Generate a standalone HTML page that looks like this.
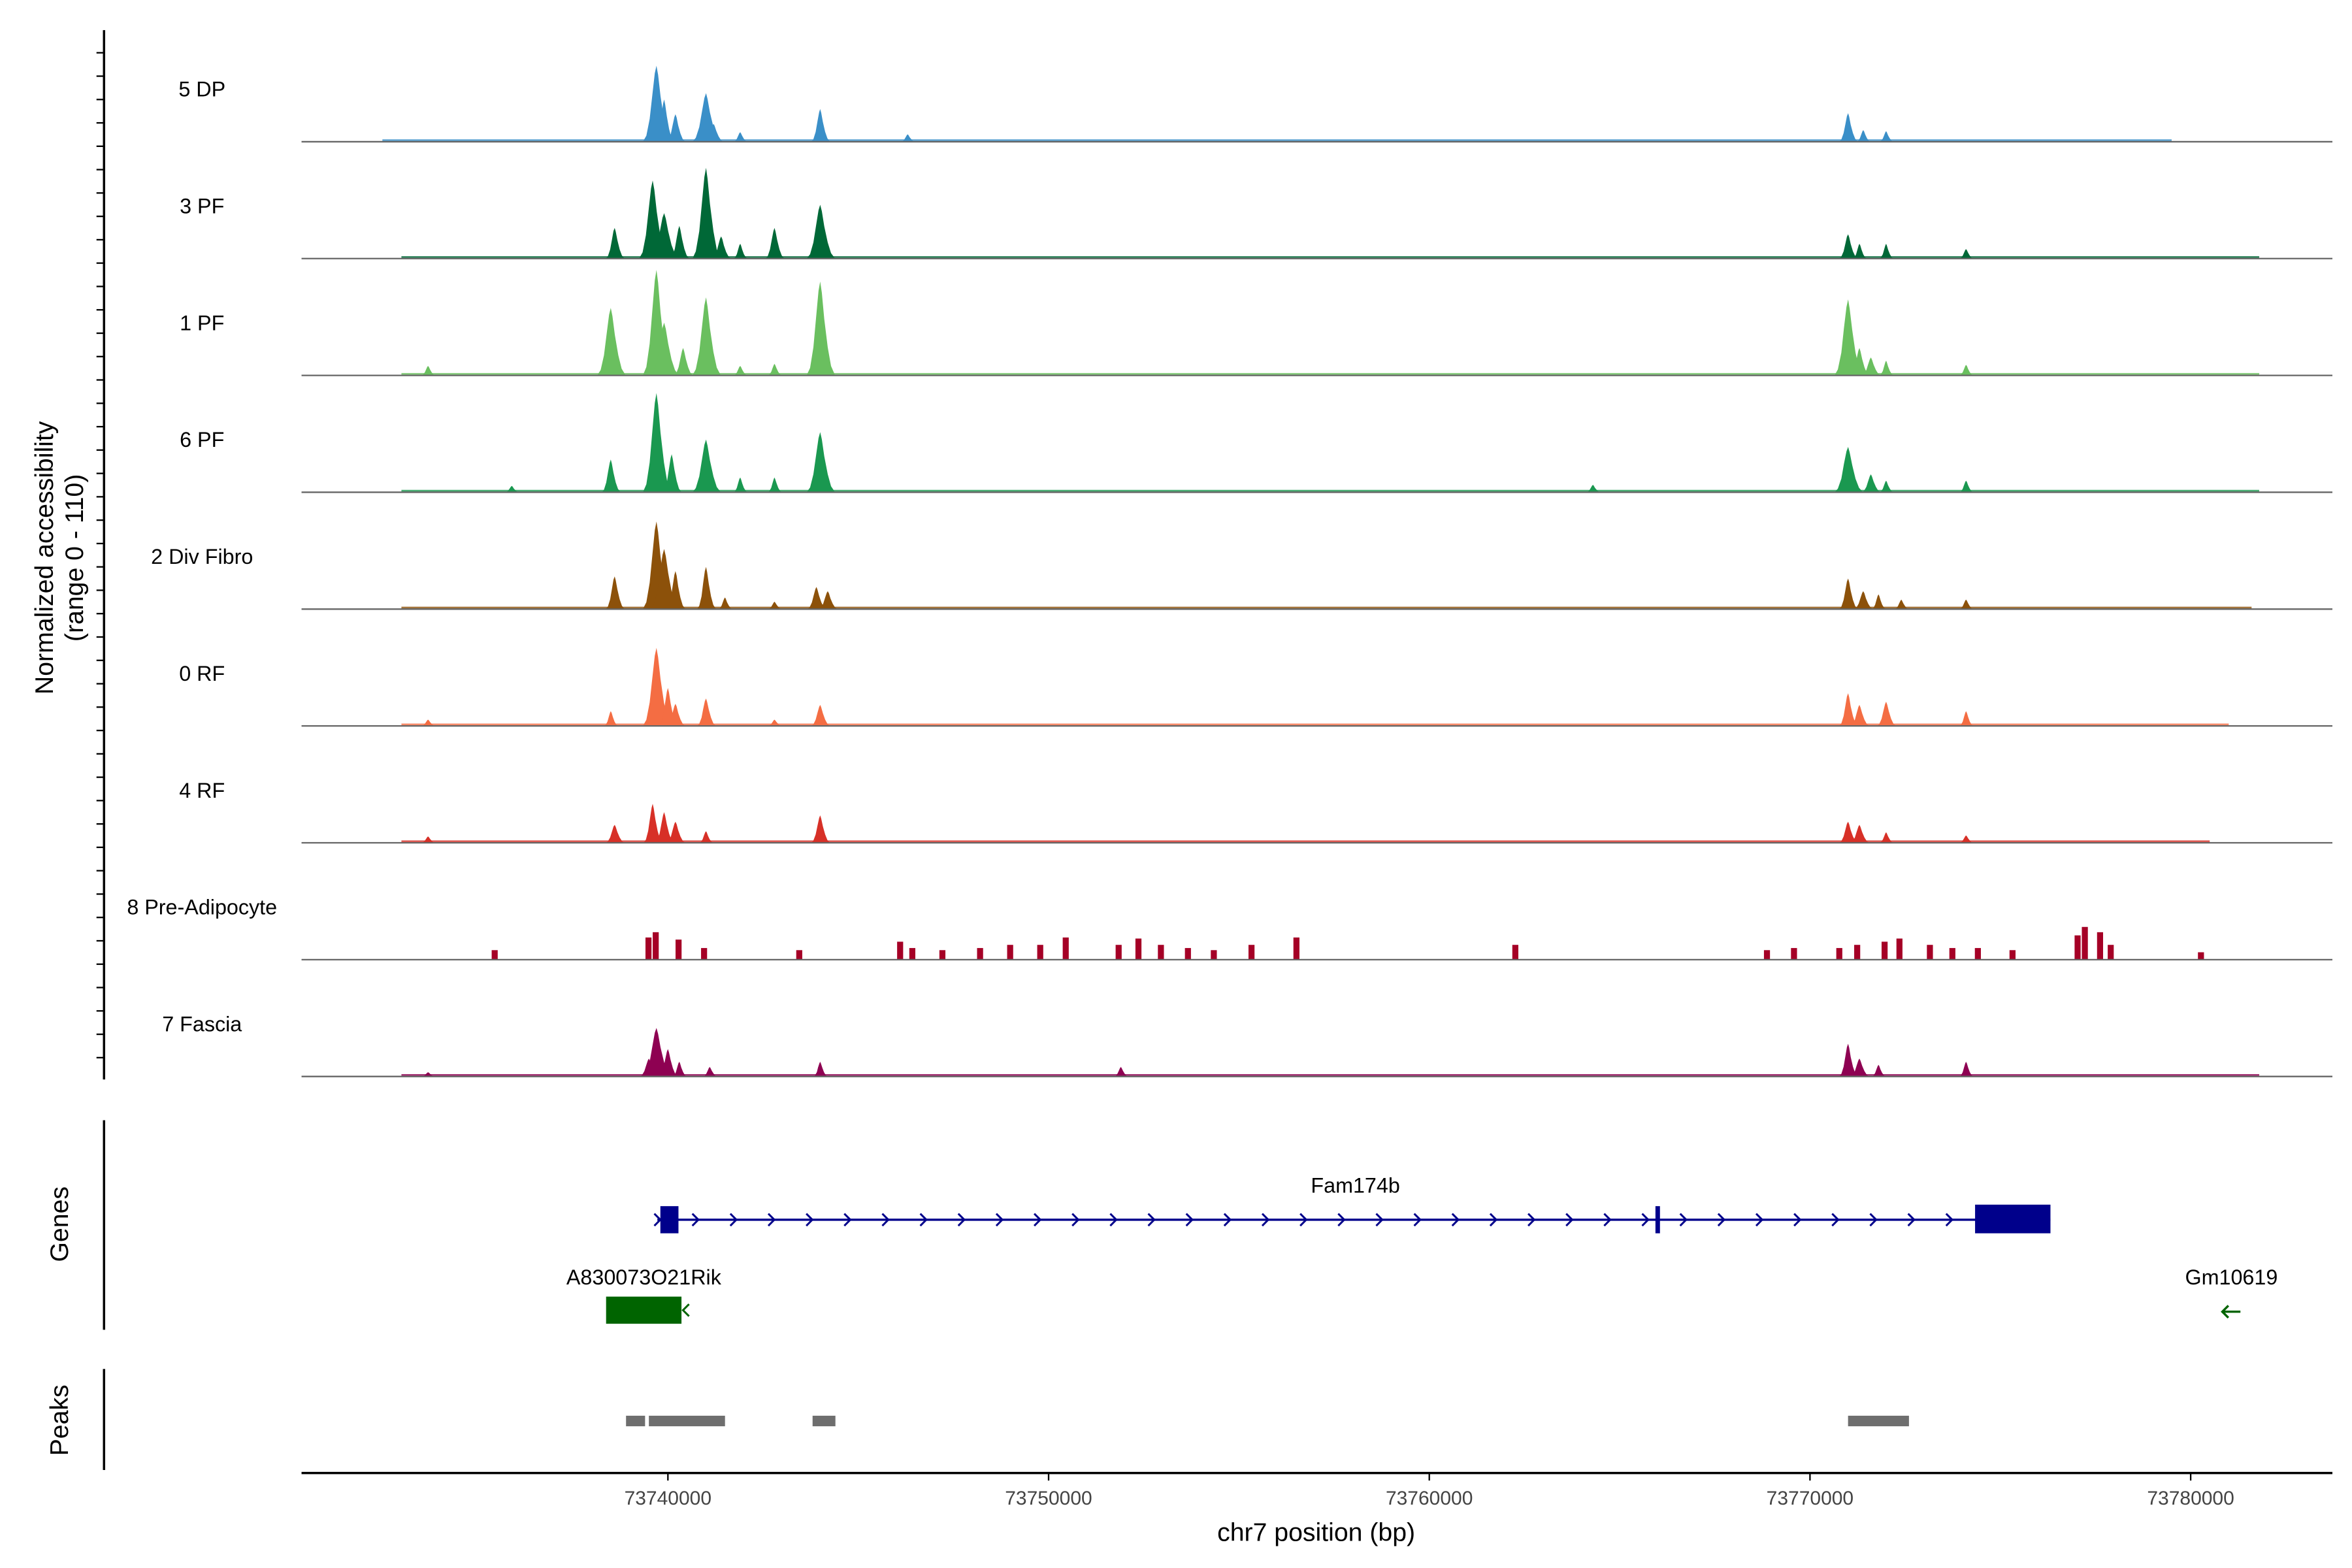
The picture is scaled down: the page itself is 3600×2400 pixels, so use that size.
<!DOCTYPE html>
<html><head><meta charset="utf-8"><style>
html,body{margin:0;padding:0;background:#fff;}
svg{display:block;font-family:"Liberation Sans",sans-serif;}
</style></head><body>
<svg id="chart" xmlns="http://www.w3.org/2000/svg" width="3600" height="2400" viewBox="0 0 1560 1040">
<rect width="1560" height="1040" fill="#fff"/>
<text transform="translate(35,370) rotate(-90)" text-anchor="middle" font-size="17">Normalized accessibility</text>
<text transform="translate(55,370) rotate(-90)" text-anchor="middle" font-size="17">(range 0 - 110)</text>
<line x1="69" y1="20" x2="69" y2="716" stroke="#000" stroke-width="1.5"/>
<g id="tracks"></g>
<g id="yticks"></g>
<line x1="69" y1="743" x2="69" y2="882" stroke="#000" stroke-width="1.5"/>
<text transform="translate(45,812) rotate(-90)" text-anchor="middle" font-size="17">Genes</text>
<g id="genes"></g>
<line x1="69" y1="908" x2="69" y2="975" stroke="#000" stroke-width="1.5"/>
<text transform="translate(45,942) rotate(-90)" text-anchor="middle" font-size="17">Peaks</text>
<g id="peaks"></g>
<line x1="200" y1="977" x2="1547" y2="977" stroke="#000" stroke-width="1.5"/>
<g id="xticks"></g>
<text x="873" y="1022" text-anchor="middle" font-size="17">chr7 position (bp)</text>
</svg>
<script>
const NS="http://www.w3.org/2000/svg";
const trackNames=["5 DP","3 PF","1 PF","6 PF","2 Div Fibro","0 RF","4 RF","8 Pre-Adipocyte","7 Fascia"];
const trackColors=["#3a8fc8","#006837","#6abf5f","#1a9850","#8c510a","#f46d43","#d73027","#a50026","#8e0152"];
const dpPos=[73739.7,73739.9,73740.2,73741.0,73741.2,73741.9,73744.0,73746.3,73771.0,73771.4,73772.0];
const dpVal=[72,40,26,46,17,9,31,7,27,11,10];
const pf3Pos=[73738.6,73739.6,73739.9,73740.3,73741.0,73741.4,73741.9,73742.8,73744.0,73771.0,73771.3,73772.0,73774.1];
const pf3Val=[29,74,43,31,86,21,14,29,51,23,14,14,9];
const pf1Pos=[73733.7,73738.5,73739.7,73739.9,73740.4,73741.0,73741.9,73742.8,73744.0,73771.0,73771.3,73771.6,73772.0,73774.1];
const pf1Val=[9,64,100,50,26,74,9,11,89,72,26,17,14,10];
const pf6Pos=[73735.9,73738.5,73739.7,73740.1,73741.0,73741.9,73742.8,73744.0,73764.3,73771.0,73771.6,73772.0,73774.1];
const pf6Val=[6,31,94,36,50,14,14,57,7,43,17,11,11];
const divPos=[73738.6,73739.7,73739.9,73740.2,73741.0,73741.5,73742.8,73743.9,73744.2,73771.0,73771.4,73771.8,73772.4,73774.1];
const divVal=[31,83,57,36,40,11,7,21,17,29,17,14,9,9];
const rf0Pos=[73733.7,73738.5,73739.7,73740.0,73740.2,73741.0,73742.8,73744.0,73771.0,73771.3,73772.0,73774.1];
const rf0Val=[6,14,74,36,21,26,6,20,31,20,23,14];
const rf4Pos=[73733.7,73738.6,73739.6,73739.9,73740.2,73741.0,73744.0,73771.0,73771.3,73772.0,73774.1];
const rf4Val=[6,17,37,29,20,11,26,20,17,10,7];
const preAdPos=[73735.45,73739.49,73739.68,73740.28,73740.95,73743.45,73746.10,73746.42,73747.21,73748.20,73748.99,73749.78,73750.45,73751.84,73752.36,73752.95,73753.66,73754.34,73755.33,73756.51,73762.26,73768.87,73769.58,73770.77,73771.24,73771.96,73772.35,73773.15,73773.74,73774.41,73775.32,73777.03,73777.22,73777.62,73777.90,73780.27];
const preAdVal=[9,21,26,19,11,9,17,11,9,11,14,14,21,14,20,14,11,9,14,21,14,9,11,11,14,17,20,14,11,11,9,23,31,26,14,7];
const fasPos=[73733.7,73739.5,73739.7,73740.0,73740.3,73741.1,73744.0,73751.9,73771.0,73771.3,73771.8,73774.1];
const fasVal=[4,17,46,26,14,9,14,9,31,17,11,14];
const noiseStart=[73732.5,73733.0,73733.0,73733.0,73733.0,73733.0,73733.0,null,73733.0];
const noiseEnd=[73779.5,73781.8,73781.8,73781.8,73781.6,73781.0,73780.5,null,73781.8];
const trackPos=[dpPos,pf3Pos,pf1Pos,pf6Pos,divPos,rf0Pos,rf4Pos,preAdPos,fasPos];
const trackVal=[dpVal,pf3Val,pf1Val,pf6Val,divVal,rf0Val,rf4Val,preAdVal,fasVal];
const xTicks=[73740000,73750000,73760000,73770000,73780000];
const peakStarts=[73738.9,73739.5,73743.8,73771.0];
const peakEnds=[73739.4,73741.5,73744.4,73772.6];

function xs(kb){return 443+(kb-73740)*25.25;}
function ys(v,base){return base-v*0.7;}
function mk(tag,attrs,parent){const e=document.createElementNS(NS,tag);for(const k in attrs)e.setAttribute(k,attrs[k]);parent.appendChild(e);return e;}

const tracks=document.getElementById('tracks');
for(let t=0;t<9;t++){
  const base=94+t*77.5;
  const g=mk('g',{},tracks);
  
  
  const lbl=mk('text',{x:134,y:base-30,'text-anchor':'middle','font-size':14},g);
  lbl.textContent=trackNames[t];
  
  
  if(noiseStart[t]!==null){
    const nz=mk('rect',{x:xs(noiseStart[t]),y:base-1.6,width:xs(noiseEnd[t])-xs(noiseStart[t]),height:1.6,fill:trackColors[t],opacity:0.8},g);
    
    
  }
  const P=trackPos[t],V=trackVal[t];
  for(let i=0;i<P.length;i++){
    const cx=xs(P[i]),top=ys(V[i],base);
    let el;
    if(t===7){
      el=mk('rect',{x:cx-2,y:top,width:4,height:base-top,fill:trackColors[t]},g);
    }else{
      const h=base-top;
      const w=V[i]>40?9:(V[i]>15?6:4.5);
      const prof=[[-1,0],[-0.75,0.08],[-0.5,0.3],[-0.3,0.62],[-0.12,0.9],[0,1],[0.12,0.88],[0.3,0.6],[0.55,0.3],[0.8,0.1],[1.1,0]];
      const pts=prof.map(p=>[cx+p[0]*w,base-p[1]*h]);
      el=mk('polygon',{points:pts.map(p=>p[0].toFixed(1)+','+p[1].toFixed(1)).join(' '),fill:trackColors[t]},g);
    }
    
    
  }
  const bl=mk('line',{x1:200,y1:base,x2:1547,y2:base,stroke:'#666','stroke-width':1},g);
  
  
}
const yt=document.getElementById('yticks');
for(let y=35;y<716;y+=15.5){
  const l=mk('line',{x1:64,y1:y,x2:69,y2:y,stroke:'#000','stroke-width':1},yt);
  
  
}
const gg=document.getElementById('genes');
let e=mk('line',{x1:436,y1:809,x2:1360,y2:809,stroke:'#00008b','stroke-width':1.5},gg);

for(let x=436;x<1300;x+=25.2){
  const a=mk('path',{d:`M${x-2},805 L${x+2},809 L${x-2},813`,stroke:'#00008b',fill:'none','stroke-width':1.3},gg);
  
}
e=mk('rect',{x:438,y:800,width:12,height:18,fill:'#00008b'},gg);
e=mk('rect',{x:1098,y:800,width:3,height:18,fill:'#00008b'},gg);
e=mk('rect',{x:1310,y:799,width:50,height:19,fill:'#00008b'},gg);
e=mk('text',{x:899,y:791,'text-anchor':'middle','font-size':14},gg);e.textContent='Fam174b';
e=mk('text',{x:427,y:852,'text-anchor':'middle','font-size':14},gg);e.textContent='A830073O21Rik';
e=mk('rect',{x:402,y:860,width:50,height:18,fill:'#006400'},gg);
e=mk('path',{d:'M457,865 L453,869 L457,873',stroke:'#006400',fill:'none','stroke-width':1.3},gg);
e=mk('text',{x:1480,y:852,'text-anchor':'middle','font-size':14},gg);e.textContent='Gm10619';
e=mk('path',{d:'M1474,870 L1486,870 M1478,866 L1474,870 L1478,874',stroke:'#006400',fill:'none','stroke-width':1.5},gg);
const pg=document.getElementById('peaks');
for(let i=0;i<peakStarts.length;i++){
  const r=mk('rect',{x:xs(peakStarts[i]),y:939,width:xs(peakEnds[i])-xs(peakStarts[i]),height:7,fill:'#6e6e6e'},pg);
  
  
}
const xg=document.getElementById('xticks');
xTicks.forEach(v=>{
  const x=xs(v/1000);
  const l=mk('line',{x1:x,y1:977,x2:x,y2:982,stroke:'#000','stroke-width':1},xg);
  
  const t=mk('text',{x:x,y:998,'text-anchor':'middle','font-size':13,fill:'#444'},xg);
  t.textContent=String(v);
  
});
</script>
</body></html>
